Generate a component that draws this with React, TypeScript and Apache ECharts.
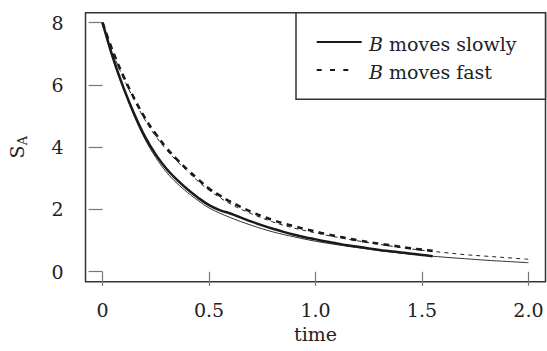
import React, { useEffect, useRef } from 'react';
import * as echarts from 'echarts';

// Theory curves (thin lines)
const timeTheory = [0, 0.05, 0.1, 0.15, 0.2, 0.25, 0.3, 0.35, 0.4, 0.45, 0.5, 0.6, 0.7, 0.8, 0.9, 1.0, 1.1, 1.2, 1.3, 1.4, 1.5, 1.6, 1.7, 1.8, 1.9, 2.0];
const slowTheory = [8.0, 6.8, 5.84, 4.98, 4.25, 3.67, 3.2, 2.84, 2.54, 2.28, 2.05, 1.74, 1.49, 1.28, 1.12, 0.98, 0.87, 0.77, 0.68, 0.6, 0.53, 0.47, 0.42, 0.37, 0.33, 0.29];
const fastTheory = [8.0, 7.0, 6.2, 5.5, 4.87, 4.35, 3.92, 3.55, 3.22, 2.9, 2.62, 2.18, 1.86, 1.6, 1.4, 1.25, 1.11, 0.99, 0.88, 0.78, 0.69, 0.62, 0.55, 0.5, 0.45, 0.4];

// Simulation curves (thick lines)
const timeSim = [0, 0.05, 0.1, 0.15, 0.2, 0.25, 0.3, 0.35, 0.4, 0.45, 0.5, 0.55, 0.6, 0.65, 0.7, 0.75, 0.8, 0.85, 0.9, 0.95, 1.0, 1.05, 1.1, 1.15, 1.2, 1.25, 1.3, 1.35, 1.4, 1.45, 1.5, 1.55];
const slowSim = [8.0, 6.85, 5.88, 5.05, 4.33, 3.76, 3.31, 2.95, 2.64, 2.37, 2.14, 1.98, 1.87, 1.74, 1.61, 1.49, 1.38, 1.28, 1.19, 1.11, 1.04, 0.97, 0.91, 0.85, 0.8, 0.75, 0.7, 0.66, 0.62, 0.58, 0.54, 0.5];
const fastSim = [8.0, 7.05, 6.25, 5.55, 4.93, 4.42, 3.98, 3.6, 3.27, 2.96, 2.67, 2.45, 2.25, 2.08, 1.92, 1.78, 1.66, 1.55, 1.46, 1.37, 1.29, 1.21, 1.14, 1.07, 1.01, 0.95, 0.9, 0.85, 0.8, 0.75, 0.71, 0.67];

const xTicks = [0, 0.5, 1, 1.5, 2];
const xTickLabels = ['0', '0.5', '1.0', '1.5', '2.0'];
const yTicks = [0, 2, 4, 6, 8];
const yTickLabels = ['0', '2', '4', '6', '8'];
const legendNames = ['moves slowly', 'moves fast'];

const FONT = 'DejaVu Serif';
const FS = 19;
const INK = '#1a1a1a';
const TXT = '#222';

const zip = (xs: number[], ys: number[]) => xs.map((x, i) => [x, ys[i]]);

export default function App() {
  const ref = useRef<HTMLDivElement>(null);
  useEffect(() => {
    if (!ref.current) return;
    const chart = echarts.init(ref.current, undefined, { renderer: 'svg' });
    const option: any = {
      animation: false,
      backgroundColor: '#fff',
      textStyle: { fontFamily: FONT },
      grid: {
        left: 85.5, top: 12.7, right: 1.5, bottom: 69.3,
        containLabel: false, outerBoundsMode: 'none',
        show: true, borderColor: '#333', borderWidth: 1.5, backgroundColor: 'transparent',
      },
      xAxis: {
        type: 'value', min: -0.08, max: 2.08,
        splitLine: { show: false },
        axisLine: { show: false },
        axisTick: { show: true, length: 14, customValues: xTicks, lineStyle: { color: '#777', width: 1.2 } },
        axisLabel: {
          customValues: xTicks, margin: 19, fontFamily: FONT, fontSize: FS, color: TXT,
          formatter: (v: number) => xTickLabels[xTicks.indexOf(v)] ?? '',
        },
        name: 'time', nameLocation: 'middle', nameGap: 35,
        nameTextStyle: { fontFamily: FONT, fontSize: FS, color: TXT },
      },
      yAxis: {
        type: 'value', min: -0.32, max: 8.32,
        splitLine: { show: false },
        axisLine: { show: false },
        axisTick: { show: true, length: 14, customValues: yTicks, lineStyle: { color: '#777', width: 1.2 } },
        axisLabel: {
          customValues: yTicks, margin: 22, fontFamily: FONT, fontSize: FS, color: TXT,
          formatter: (v: number) => yTickLabels[yTicks.indexOf(v)] ?? '',
        },
      },
      series: [
        {
          type: 'line', name: 'slow theory', data: zip(timeTheory, slowTheory), showSymbol: false,
          smooth: 0.4, lineStyle: { color: '#333', width: 1 }, z: 2,
        },
        {
          type: 'line', name: 'fast theory', data: zip(timeTheory, fastTheory), showSymbol: false,
          smooth: 0.4, lineStyle: { color: '#222', width: 1, type: [4, 4] }, z: 2,
        },
        {
          type: 'line', name: 'slow sim', data: zip(timeSim, slowSim), showSymbol: false,
          smooth: 0.4, lineStyle: { color: INK, width: 2.5 }, z: 3,
        },
        {
          type: 'line', name: 'fast sim', data: zip(timeSim, fastSim), showSymbol: false,
          smooth: 0.4, lineStyle: { color: INK, width: 2.6, type: [6, 5] }, z: 3,
        },
      ],
      graphic: [
        {
          type: 'rect', shape: { x: 296, y: 12.7, width: 249.5, height: 86.6 },
          style: { fill: '#fff', stroke: '#333', lineWidth: 1.5 }, z: 10,
        },
        {
          type: 'line', shape: { x1: 316.7, y1: 42, x2: 361.7, y2: 42 },
          style: { stroke: INK, lineWidth: 1.8 }, z: 11,
        },
        {
          type: 'line', shape: { x1: 316.7, y1: 70, x2: 348.5, y2: 70 },
          style: { stroke: INK, lineWidth: 1.8, lineDash: [5, 8.3] }, z: 11,
        },
        {
          type: 'text', x: 369, y: 44, z: 11,
          style: {
            text: '{i|B} ' + legendNames[0], fontFamily: FONT, fontSize: FS, fill: TXT,
            verticalAlign: 'middle', align: 'left',
            rich: { i: { fontStyle: 'italic', fontFamily: FONT, fontSize: FS, fill: TXT } },
          },
        },
        {
          type: 'text', x: 369, y: 72, z: 11,
          style: {
            text: '{i|B} ' + legendNames[1], fontFamily: FONT, fontSize: FS, fill: TXT,
            verticalAlign: 'middle', align: 'left',
            rich: { i: { fontStyle: 'italic', fontFamily: FONT, fontSize: FS, fill: TXT } },
          },
        },
        {
          type: 'text', x: 16.5, y: 152, rotation: Math.PI / 2, z: 11,
          style: { text: 'S', fontFamily: FONT, fontSize: 19, fill: TXT, align: 'center', verticalAlign: 'middle' },
        },
        {
          type: 'text', x: 22.5, y: 140.5, rotation: Math.PI / 2, z: 11,
          style: { text: 'A', fontFamily: FONT, fontSize: 13, fill: TXT, align: 'center', verticalAlign: 'middle' },
        },
      ],
    };
    chart.setOption(option);
    return () => chart.dispose();
  }, []);
  return <div ref={ref} style={{ width: 547, height: 351, position: 'absolute', left: 0, top: 0 }} />;
}
